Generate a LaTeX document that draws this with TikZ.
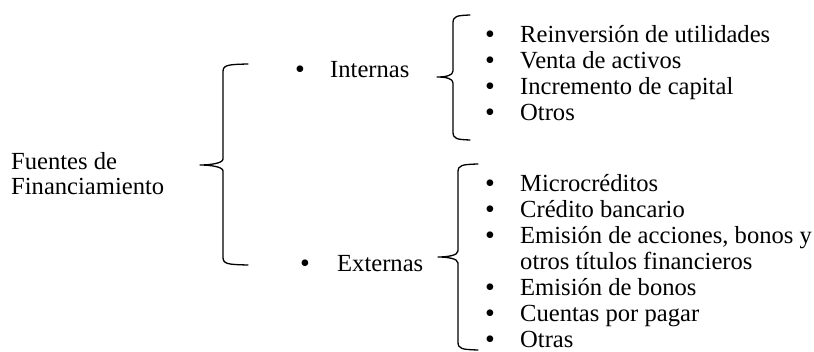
\documentclass[tikz,border=0pt]{standalone}
\usepackage{fontspec}
\setmainfont{Liberation Serif}
\usepackage{tikz}

\tikzset{
  texto/.style={anchor=base west, inner sep=0pt, font=\fontsize{24.6}{25.5}\selectfont},
  bala/.style={anchor=base, inner sep=0pt, font=\fontsize{28}{28}\selectfont},
  llave/.style={line width=1.3pt, line join=round, line cap=round}
}

% llave: {x recta}{x puntas}{y arriba}{y abajo}{x pico}{y pico}
\newcommand{\llave}[6]{%
  \draw[llave] (#2,#3) .. controls (#1+4,#3+0.5) and (#1,#3+1) .. (#1,#3+8)
    -- (#1,#6-6) .. controls (#1,#6-1.5) and (#5+9,#6) .. (#5,#6)
    .. controls (#5+9,#6) and (#1,#6+1.5) .. (#1,#6+6)
    -- (#1,#4-8) .. controls (#1,#4-1) and (#1+4,#4-0.5) .. (#2,#4);}

\begin{document}
\begin{tikzpicture}[x=1pt,y=-1pt]
\useasboundingbox (0,0) rectangle (814,352);

\node[texto, align=left] (fuentes) at (11,195) {Fuentes de\\Financiamiento};
\llave{223}{248}{64}{265}{200}{165}

% internas
\node[bala] (bint) at (300,79) {\textbullet};
\node[texto] (internas) at (330,78) {Internas};
\llave{453}{470}{15}{140}{437}{77}
\foreach \t [count=\i] in {Reinversión de utilidades, Venta de activos,
    Incremento de capital, Otros} {
  \node[bala] (bi\i) at (490,{44+25.7*(\i-1)}) {\textbullet};
  \node[texto] (int\i) at (520,{43+25.7*(\i-1)}) {\t};
}

% externas
\node[bala] (bext) at (305,273) {\textbullet};
\node[texto] (externas) at (337,272) {Externas};
\llave{458}{478}{164}{350}{438}{257}
\foreach \b/\t [count=\i] in {1/Microcréditos, 1/Crédito bancario,
    1/{Emisión de acciones, bonos y}, 0/otros títulos financieros,
    1/Emisión de bonos, 1/Cuentas por pagar, 1/Otras} {
  \ifnum\b=1 \node[bala] (be\i) at (490,{193+26*(\i-1)}) {\textbullet}; \fi
  \node[texto] (ext\i) at (520,{192+26*(\i-1)}) {\t};
}
\end{tikzpicture}
\end{document}
